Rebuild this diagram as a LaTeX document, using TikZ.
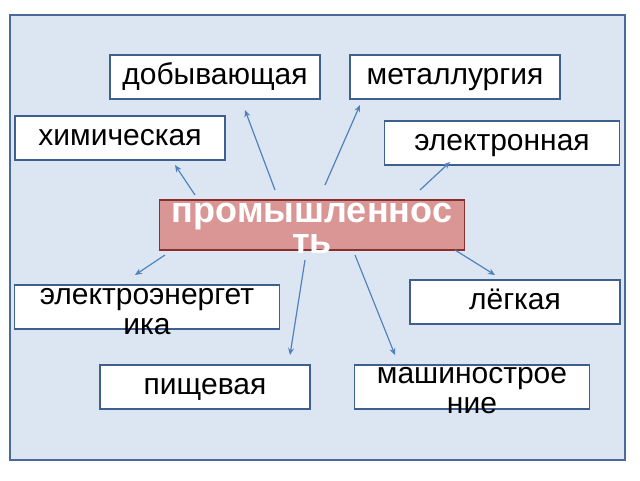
\documentclass[tikz,border=0pt]{standalone}
\usepackage{fontspec}
\setmainfont{Liberation Sans}
\usetikzlibrary{arrows.meta}
\definecolor{bgblue}{HTML}{DCE6F2}
\definecolor{frameblue}{HTML}{4A6A9A}
\definecolor{boxblue}{HTML}{3F5F8F}
\definecolor{arrowblue}{HTML}{4F81BD}
\definecolor{centerfill}{HTML}{D99694}
\definecolor{centerdraw}{HTML}{8B2E2E}
\begin{document}
\begin{tikzpicture}[x=1pt,y=-1pt,
  box/.style={draw=boxblue,line width=1.2pt,fill=white,inner sep=0pt,font=\fontsize{30}{30}\selectfont,align=center,text height=18pt,text depth=4pt},
  conn/.style={draw=arrowblue,line width=1.2pt,-{Stealth[open,length=7pt,width=6pt]}}]
\useasboundingbox (0,0) rectangle (640,480);
\draw[draw=frameblue,line width=1.2pt,fill=bgblue] (10,15) rectangle (625,460);
\node[box,minimum width=210,minimum height=44] (dob) at (215,77) {добывающая};
\node[box,minimum width=210,minimum height=44] (met) at (455,77) {металлургия};
\node[box,minimum width=210,minimum height=44] (him) at (120,138) {химическая};
\node[box,minimum width=235,minimum height=44] (ele) at (502,143) {электронная};
\node[draw=centerdraw,line width=1.2pt,fill=centerfill,minimum width=305,minimum height=50,inner sep=0pt] (prom) at (312,225) {};
\node[text=white,font=\bfseries\fontsize{36}{31}\selectfont,align=center] (promt) at (312,228) {промышленнос\\ть};
\node[box,minimum width=265,minimum height=44] (een) at (147,307) {};
\node[font=\fontsize{30}{30}\selectfont,align=center] (eent) at (147,312) {электроэнергет\\ика};
\node[box,minimum width=210,minimum height=44] (leg) at (515,302) {лёгкая};
\node[box,minimum width=210,minimum height=44] (pis) at (205,387) {пищевая};
\node[box,minimum width=235,minimum height=44] (mash) at (472,387) {};
\node[font=\fontsize{30}{30}\selectfont,align=center] (masht) at (472,391) {машинострое\\ние};
\coordinate (a1s) at (195,195); \coordinate (a1e) at (175,165);
\coordinate (a2s) at (275,190); \coordinate (a2e) at (245,110);
\coordinate (a3s) at (325,185); \coordinate (a3e) at (360,105);
\coordinate (a4s) at (420,190); \coordinate (a4e) at (450,162);
\coordinate (a5s) at (165,255); \coordinate (a5e) at (135,275);
\coordinate (a6s) at (455,250); \coordinate (a6e) at (495,275);
\coordinate (a7s) at (305,260); \coordinate (a7e) at (290,355);
\coordinate (a8s) at (355,255); \coordinate (a8e) at (395,355);
\foreach \i in {1,...,8} \draw[conn] (a\i s) -- (a\i e);
\end{tikzpicture}
\end{document}
